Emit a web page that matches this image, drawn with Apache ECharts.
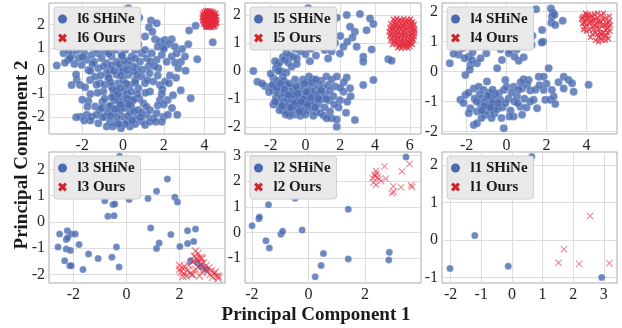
<!DOCTYPE html>
<html>
<head>
<meta charset="utf-8">
<script src="https://cdn.jsdelivr.net/npm/echarts@6/dist/echarts.min.js"></script>
<style>
  html, body { margin: 0; padding: 0; background: #ffffff; }
  #chart { width: 622px; height: 328px; }
</style>
</head>
<body>
<div id="chart"></div>
<script>
// Panel names, in drawing order (top row, then bottom row)
const panelNames = ['l6', 'l5', 'l4', 'l3', 'l2', 'l1'];

// l6
const l6Shine = [
  [0.26,2.71],[1.37,2.18],[1.65,2.06],[1.27,1.89],[1.44,1.7],[1.08,1.49],[1.57,1.37],[1.81,1.27],[2.06,1.34],[2.39,1.37],
  [2.25,1.17],[3.24,1.75],[3.56,1.95],[4.4,1.24],[3.2,1.15],[2.55,1.05],[1.98,1.05],[1.7,1.05],[4.1,1.95],
  [0.5,1.5],[-0.3,2.0],[0.0,1.25],[-1.0,1.4],[-0.6,2.3],[0.8,2.3],[-1.8,1.2],[-2.4,1.15],[0.3,1.8],[-0.2,1.6],
  [-3.25,0.23],[-2.92,0.76],[-2.68,0.88],[-2.52,0.69],[-2.27,0.88],[-2.19,0.55],[-1.9,0.76],[-1.78,0.48],[-1.54,0.69],[-1.41,0.4],
  [-2.03,0.26],[-2.39,0.3],[-2.68,0.48],[-1.21,0.76],[-1.05,0.55],[-0.88,0.84],[-0.8,0.33],[-0.56,0.62],[-0.39,0.91],[-0.31,0.4],
  [-0.07,0.69],[0.1,0.91],[0.18,0.26],[0.42,0.62],[0.59,0.91],[0.83,0.4],[0.92,0.76],[1.16,0.55],[1.08,0.91],[1.41,0.76],
  [1.65,0.48],[1.9,0.69],[2.14,0.4],[2.39,0.62],[2.63,0.76],[2.84,0.4],[3.04,0.62],[3.64,0.5],[3.07,0.01],[2.71,0.12],
  [1.73,0.12],[1.24,0.19],[-0.64,0.04],[-1.21,0.12],[-1.7,0.04],[0.67,0.12],[-0.15,0.12],
  [-0.2,0.3],[0.5,0.2],[0.3,0.45],[-1.5,0.3],[-2.0,0.6],[-2.6,0.55],[-0.8,1.0],[-0.1,1.05],[0.35,1.1],[0.75,1.15],
  [-1.35,0.95],[-2.1,1.0],[1.35,0.4],[1.55,0.2],[-0.55,0.25],[0.05,0.45],[2.9,0.95],
  [-2.52,-0.61],[-2.27,-0.39],[-2.11,-0.61],[-1.86,-0.71],[-1.62,-0.39],[-1.37,-0.25],[-1.13,-0.53],[-0.96,-0.89],[-0.72,-0.32],[-0.56,-0.68],
  [-0.31,-0.17],[-0.23,-0.53],[0.02,-0.39],[0.1,-0.82],[0.26,-0.17],[0.34,-0.61],[0.59,-0.39],[0.75,-0.75],[0.92,-0.25],[1.08,-0.53],
  [1.32,-0.89],[1.49,-0.46],[1.81,-0.61],[2.06,-0.46],[2.25,-0.53],[1.93,-0.79],[2.83,-0.84],[-0.47,-1.04],[-0.07,-1.11],[-0.8,-0.1],
  [0.51,-0.03],[0.0,0.0],[-0.5,-0.8],[-0.2,-1.3],[0.2,-1.0],[0.6,-0.5],[-0.7,-0.3],[-1.1,-0.2],[1.3,-0.1],[0.8,-1.2],
  [-0.35,-0.85],[0.45,-1.25],[-0.9,-0.6],[1.1,-0.95],[2.45,-1.05],[2.6,-0.3],[-2.0,-1.25],[-1.7,-1.3],
  [-2.08,-1.98],[-1.78,-1.9],[-1.54,-1.98],[-1.37,-1.54],[-1.13,-1.69],[-1.01,-1.33],[-0.88,-1.98],[-0.72,-1.54],[-0.64,-2.19],[-0.47,-1.83],
  [-0.39,-1.26],[-0.31,-2.27],[-0.23,-1.62],[-0.1,-2.48],[-0.03,-1.98],[0.1,-1.4],[0.23,-2.19],[0.34,-1.76],[0.51,-1.26],[0.59,-2.05],
  [0.75,-1.69],[0.92,-2.19],[1.0,-1.4],[1.16,-1.9],[1.32,-1.69],[1.49,-2.05],[1.65,-1.83],[1.81,-1.26],[1.98,-1.98],[2.19,-1.26],
  [2.66,-1.9],[3.32,-1.18],[-1.21,-2.27],[-0.8,-2.41],[0.34,-2.41],[1.08,-2.34],
  [0.4,-1.5],[-0.6,-1.5],[-0.9,-1.2],[-0.3,-2.0],[0.6,-2.3],[-1.0,-2.0],[1.3,-2.2],[0.1,-2.3],[-0.5,-2.4],[0.9,-1.8],
  [-1.3,-1.9],[1.7,-1.5],[2.2,-1.9],[-1.75,-1.55],[-0.15,-1.7],[0.7,-1.0],[-0.55,-1.15],[0.25,-1.95],[-1.6,-1.0],
  [-0.45,0.0],[-0.1,-0.2],[0.15,-0.55],[-0.6,-0.5],[0.4,-0.9],[-0.25,-1.0],[0.05,-1.6],[-0.4,-1.65],[0.55,-1.75],[-0.75,-1.8],
  [0.2,-1.2],[-0.15,-0.75],[0.7,-0.15],[-0.95,0.2],[0.95,0.05],[-1.3,-0.6],[1.2,-0.4],[-1.6,0.0],[1.7,-0.2],[-0.35,1.3],
  [0.2,0.05],[-0.05,0.65],[0.6,0.55],[-0.7,0.75],[-1.6,-2.15],[0.45,-2.15],[-0.2,-2.3],[1.6,-2.2],[1.9,-2.2],[-1.9,-2.15],
  [2.4,-1.6],[2.0,-1.45],[-2.3,-2.0],[0.85,-2.0],[-0.6,-1.95],[-1.05,-1.6],[0.3,-1.45],[1.15,-1.55],[-0.15,-1.45],[-1.25,-0.95],
  [-2.3,-0.15],[-2.85,0.35],[2.0,0.95],[2.3,-0.2],[2.55,0.35],[1.9,-1.0]
];
const l6Ours = [
  [3.95,2.55],[4.05,2.6],[4.15,2.62],[4.25,2.6],[4.35,2.58],[4.45,2.55],[4.55,2.5],
  [4.0,2.52],[4.2,2.54],[4.4,2.5],[4.1,2.56],[4.3,2.53],[4.5,2.46],
  [3.9,2.45],[4.0,2.42],[4.1,2.48],[4.2,2.45],[4.3,2.5],[4.4,2.42],[4.5,2.4],[4.6,2.35],
  [3.93,2.37],[4.05,2.38],[4.15,2.4],[4.25,2.39],[4.35,2.36],[4.45,2.34],[4.55,2.32],
  [3.88,2.3],[3.98,2.28],[4.08,2.33],[4.18,2.3],[4.28,2.35],[4.38,2.28],[4.48,2.3],[4.58,2.22],
  [3.92,2.22],[4.03,2.24],[4.13,2.22],[4.23,2.25],[4.33,2.21],[4.43,2.23],[4.53,2.18],
  [3.9,2.15],[4.0,2.18],[4.1,2.12],[4.2,2.17],[4.3,2.14],[4.4,2.18],[4.5,2.12],[4.6,2.1],
  [3.97,2.08],[4.07,2.07],[4.17,2.1],[4.27,2.06],[4.37,2.09],[4.47,2.05],[4.57,2.05],
  [3.95,2.02],[4.05,2.0],[4.15,2.04],[4.25,1.98],[4.35,2.03],[4.45,1.97],[4.55,2.0],
  [4.05,1.9],[4.15,1.88],[4.25,1.9],[4.35,1.87],[4.45,1.9],[4.1,1.95],[4.3,1.94],[4.5,1.93]
];

// l5
const l5Shine = [
  [-3.0,0.0],[-2.77,-0.38],[-2.33,-0.54],[-2.5,-0.45],
  [-1.85,-0.26],[-2.0,-0.1],[-1.7,0.1],[-1.6,0.2],[-1.5,0.3],[-1.75,0.35],[-1.3,0.5],[-1.2,0.4],[-1.1,0.65],[-1.0,0.3],
  [-0.9,0.55],[-0.7,0.5],[-0.6,0.8],[-0.5,0.45],[-0.3,0.7],[-0.2,0.95],[0.0,0.6],[0.1,1.0],[0.3,0.8],[0.5,1.1],
  [0.7,0.9],[0.9,1.2],[1.1,0.75],[-1.4,0.0],[-1.1,-0.05],[-0.8,0.15],[-1.95,-0.55],[-1.6,-0.35],[-1.3,-0.2],
  [0.16,2.24],[0.4,2.0],[0.8,1.7],[1.2,2.1],[1.5,1.6],[0.2,1.5],[-0.3,1.3],[1.0,1.45],[1.8,1.9],
  [2.37,2.0],[2.56,1.58],[2.84,1.4],[2.7,1.2],[3.13,2.04],[3.71,1.88],[3.9,1.68],[3.51,1.46],[3.8,0.77],[2.94,0.87],
  [3.32,0.51],[3.32,0.33],[1.98,0.63],[2.18,0.87],[2.4,1.05],[2.0,1.25],[1.7,1.0],[1.5,0.7],[1.3,0.45],[4.76,0.42],[4.95,0.37],
  [-1.8,-0.7],[-1.7,-0.95],[-1.6,-1.1],[-1.55,-0.8],[-1.45,-1.25],[-1.4,-0.6],[-1.35,-0.95],[-1.3,-1.4],[-1.25,-1.1],[-1.2,-0.8],
  [-1.15,-1.3],[-1.1,-0.5],[-1.05,-1.0],[-1.0,-1.5],[-0.95,-1.2],[-0.9,-0.75],[-0.85,-1.4],[-0.8,-1.0],[-0.75,-0.6],[-0.7,-1.25],
  [-0.65,-0.9],[-0.6,-1.55],[-0.55,-1.1],[-0.5,-0.7],[-0.45,-1.35],[-0.4,-0.95],[-0.35,-1.2],[-0.3,-0.5],[-0.25,-0.85],[-0.2,-1.45],
  [-0.15,-1.05],[-0.1,-0.65],[-0.05,-1.3],[0.0,-0.9],[0.05,-1.15],[0.1,-0.4],[0.15,-0.75],[0.2,-1.4],[0.25,-1.0],[0.3,-0.6],
  [0.35,-1.25],[0.4,-0.85],[0.45,-0.3],[0.5,-1.1],[0.55,-0.7],[0.6,-1.45],[0.65,-0.95],[0.7,-0.5],[0.75,-1.2],[0.8,-0.8],
  [0.9,-0.35],[0.95,-1.0],[1.0,-0.6],[1.1,-1.3],[1.15,-0.85],[1.2,-0.2],[1.3,-0.5],[1.35,-1.05],[1.4,-0.7],[1.5,-0.3],
  [1.6,-0.9],[1.7,-0.55],[1.8,-0.2],[-1.9,-0.5],[-1.5,-1.4],[-0.9,-1.6],[-0.3,-1.6],[0.0,-1.55],[0.45,-1.6],[-1.25,-0.35],
  [-0.6,-0.3],[0.2,-0.2],[-2.1,-0.75],[-1.85,-1.2],[-0.15,-0.3],[0.85,-1.5],[1.05,-1.6],
  [2.37,-0.23],[2.56,-0.62],[2.18,-0.74],[1.98,-1.04],[1.41,-1.45],[1.5,-1.69],[1.79,-1.99],[1.79,-1.73],[2.84,-1.75],[2.33,-1.49],
  [1.22,-1.69],[3.9,-0.32],[3.32,-0.5],[2.2,-0.4],[2.0,-0.6],[1.9,-1.3],[2.4,-1.1],[1.65,-1.2],[2.6,-0.9],
  [-1.65,-0.6],[-1.45,-0.45],[-1.2,-0.65],[-0.95,-0.45],[-0.75,-0.85],[-0.55,-0.55],[-0.35,-1.45],[-0.1,-1.0],[0.1,-1.2],[0.3,-0.95],
  [0.55,-1.3],[-1.0,-0.85],[-0.65,-1.15],[-0.25,-1.1],[0.05,-0.75],[0.35,-0.4],[0.75,-1.0],[-1.35,-1.25],[-1.75,-1.1],[-0.85,-1.3],
  [-0.45,-0.8],[1.2,-1.0],[0.9,-0.7],[-1.15,-1.55],[-0.05,-0.45],[0.6,-0.3],[-1.55,0.0],[-0.5,0.25],[0.25,0.35],[0.6,0.55]
];
const l5Ours = [
  [5.05,1.85],[5.25,1.88],[5.45,1.84],[5.65,1.87],[5.85,1.83],[6.05,1.86],
  [5.15,1.79],[5.35,1.78],[5.55,1.8],[5.75,1.77],[5.95,1.79],[6.15,1.76],
  [4.9,1.7],[5.1,1.72],[5.3,1.68],[5.5,1.71],[5.7,1.69],[5.9,1.73],[6.1,1.7],[6.25,1.67],
  [5.0,1.62],[5.2,1.64],[5.4,1.61],[5.6,1.63],[5.8,1.6],[6.0,1.63],[6.18,1.61],
  [4.85,1.55],[5.0,1.53],[5.2,1.57],[5.4,1.54],[5.6,1.56],[5.8,1.52],[6.0,1.55],[6.2,1.53],
  [4.9,1.47],[5.1,1.48],[5.3,1.46],[5.5,1.49],[5.7,1.45],[5.9,1.47],[6.1,1.46],[6.27,1.48],
  [4.8,1.4],[4.95,1.38],[5.15,1.42],[5.35,1.39],[5.55,1.41],[5.75,1.37],[5.95,1.4],[6.15,1.38],[6.28,1.42],
  [4.9,1.32],[5.1,1.31],[5.3,1.33],[5.5,1.3],[5.7,1.32],[5.9,1.29],[6.1,1.31],[6.26,1.33],
  [4.85,1.25],[5.05,1.23],[5.25,1.27],[5.45,1.24],[5.65,1.26],[5.85,1.22],[6.05,1.25],[6.25,1.23],
  [4.95,1.17],[5.15,1.16],[5.35,1.18],[5.55,1.15],[5.75,1.17],[5.95,1.14],[6.15,1.17],
  [4.9,1.1],[5.1,1.08],[5.3,1.12],[5.5,1.09],[5.7,1.11],[5.9,1.07],[6.1,1.1],[6.22,1.12],
  [5.1,1.02],[5.3,1.01],[5.5,1.03],[5.7,1.0],[5.9,1.02],[6.08,1.01],
  [5.0,0.95],[5.2,0.97],[5.4,0.93],[5.6,0.96],[5.8,0.94],[6.0,0.97],[6.15,0.95],
  [5.3,0.83],[5.5,0.81],[5.7,0.84],[5.9,0.82],[5.4,0.88],[5.6,0.89],[5.8,0.87],[6.0,0.88]
];

// l4
const l4Shine = [
  [1.48,2.08],[2.23,2.11],[2.32,1.97],[2.27,1.83],[2.4,1.9],[2.81,1.7],[2.24,1.63],[2.44,1.56],[1.78,1.39],[1.83,1.0],
  [-2.0,1.2],[-1.5,1.5],[-1.0,1.7],[-0.5,1.3],[0.5,1.9],[1.0,1.5],[-2.5,0.95],[1.3,1.2],[1.26,0.89],[1.76,0.97],
  [0.18,0.72],[0.51,0.74],
  [-2.84,0.28],[-2.56,0.83],[-2.22,0.78],[-2.39,0.56],[-1.89,0.5],[-1.81,0.22],[-1.73,0.39],[-1.48,0.28],[-2.06,-0.11],[-1.84,0.06],
  [-1.01,0.61],[-0.47,0.11],[-0.23,0.39],[0.11,0.61],[0.86,0.48],[0.61,0.36],[-1.7,0.65],[-2.1,0.45],
  [-2.31,-0.94],[-2.06,-0.78],[-1.64,-0.56],[-1.39,-0.5],[-1.14,-0.61],[-0.98,-0.33],[-0.81,-0.83],[-0.65,-0.94],[-0.56,-1.17],[-0.39,-0.72],
  [-0.31,-0.94],[-0.14,-0.61],[-0.06,-0.28],[-1.81,-1.22],[-1.48,-1.33],[-1.14,-1.28],[-0.81,-1.33],[-1.89,-1.39],[-1.64,-1.78],[-1.48,-1.72],
  [-0.14,-1.89],[0.36,-1.5],[0.78,-1.44],[0.69,-1.17],[0.36,-0.5],[0.53,-0.83],[0.78,-0.56],[1.03,-0.44],[1.19,-0.63],[1.11,-0.28],
  [1.36,-0.94],[1.61,-0.17],[1.86,-0.17],[2.11,0.11],[1.86,-0.61],[1.94,-0.94],[2.19,-0.94],[2.36,-0.83],[2.27,-0.61],[2.86,-0.17],
  [3.11,-0.28],[3.28,-0.39],[3.36,-0.67],[2.86,-0.56],[2.44,-1.08],[1.53,-1.22],[4.11,-0.44],
  [-1.0,-1.0],[-0.9,-1.15],[-1.2,-0.9],[-0.7,-1.05],[-1.3,-1.1],[-0.85,-0.7],[-1.05,-1.45],[-0.6,-1.4],[-1.35,-0.75],[-0.45,-1.25],
  [-0.2,-1.2],[0.1,-0.9],[0.2,-1.3],[0.4,-1.0],[0.6,-0.6],[0.9,-0.9],[1.0,-1.2],[-0.75,-1.55],[-1.25,-1.55],[-0.25,-1.55],
  [0.85,-0.25],[1.45,-0.6],[2.6,-0.35],[2.0,-0.4],[-2.15,-1.05],[-1.6,-0.9],[0.0,-0.5],
  [-0.95,-0.8],[-1.1,-1.15],[-0.8,-1.2],[-0.55,-0.75],[-1.25,-1.3],[-0.7,-0.6],[-1.5,-1.0],[-0.4,-1.05],[0.25,-0.7],[0.55,-1.05],
  [0.7,-0.35],[0.15,-1.5],[-0.05,-1.05],[1.2,-1.0],[1.65,-0.45],[-1.9,-0.7],[-0.3,0.75],[-1.3,0.45],[0.4,0.5],[-2.65,0.6]
];
const l4Ours = [
  [3.75,1.75],[3.8,1.6],[3.85,1.85],[3.9,1.5],[3.95,1.7],[4.0,1.9],[4.05,1.55],[4.1,1.78],[4.15,1.4],[4.2,1.65],
  [4.25,1.88],[4.3,1.5],[4.35,1.72],[4.4,1.92],[4.45,1.3],[4.5,1.58],[4.55,1.8],[4.6,1.15],[4.65,1.42],[4.7,1.68],
  [4.75,1.88],[4.8,1.05],[4.85,1.3],[4.9,1.55],[4.95,1.78],[5.0,1.2],[5.05,1.45],[5.1,1.65],[5.15,1.85],[5.18,1.35],
  [4.3,1.25],[4.45,1.05],[4.6,1.0],[4.75,1.25],[4.95,1.05],[5.1,1.1],[4.0,1.35],[4.2,1.15],[3.85,1.4],[4.55,1.95],
  [4.85,1.95],[5.0,1.6],[4.4,1.55],[4.65,1.6],[4.25,1.7],[3.95,1.95],[5.2,1.55],
  [3.8,1.8],[3.9,1.62],[4.0,1.78],[4.1,1.9],[4.15,1.62],[4.3,1.82],[4.45,1.75],[4.55,1.45],[4.6,1.7],[4.7,1.3],
  [4.8,1.55],[4.85,1.75],[4.95,1.4],[5.05,1.3],[5.1,1.5],[4.9,1.2],[4.7,1.12],[4.55,1.25],[5.15,1.7],[4.35,1.4]
];

// l3
const l3Shine = [
  [-0.26,2.5],[1.54,1.63],[1.13,1.17],[0.81,0.89],[0.41,1.04],[0.10,0.85],[1.82,0.94],[1.92,0.76],[-0.82,0.81],[-0.51,0.66],
  [-0.44,0.68],[-0.7,0.22],[-0.47,0.24],[0.91,-0.23],[1.67,-0.48],[2.3,-0.33],[2.6,-0.27],[2.53,-0.74],[2.3,-0.82],[2.01,-0.93],
  [1.23,-0.8],[1.13,-1.01],[2.41,-1.47],[2.67,-1.56],[2.82,-1.69],[3.0,-1.81],[-2.58,-0.95],[-2.52,-0.46],[-2.23,-0.33],[-2.08,-0.46],
  [-1.93,-0.46],[-2.27,-0.67],[-2.22,-0.6],[-2.27,-1.03],[-2.11,-1.08],[-2.33,-1.47],[-2.14,-1.66],[-2.08,-1.66],[-1.79,-0.86],[-1.64,-1.81],
  [-1.43,-1.22],[-1.07,-1.39],[-0.55,-1.34],[-0.38,-0.95],[-0.28,-1.71],[-1.5,1.8],[-0.9,1.2]
];
const l3Ours = [
  [2.6,-1.1],[2.7,-1.2],[2.55,-1.3],[2.75,-1.35],[2.65,-1.45],[2.85,-1.4],[2.5,-1.5],[2.9,-1.55],[2.8,-1.6],[3.0,-1.65],
  [2.7,-1.7],[3.1,-1.75],[2.95,-1.8],[3.2,-1.85],[3.05,-1.9],[3.3,-1.95],[3.15,-2.0],[3.4,-2.05],[3.35,-1.9],[2.85,-1.9],
  [2.6,-1.8],[2.5,-2.0],[2.75,-2.05],[3.25,-2.1],[3.45,-2.15],
  [2.0,-1.65],[2.1,-1.75],[2.2,-1.7],[2.05,-1.9],[2.15,-1.95],[2.3,-1.85],[2.25,-2.05],[2.4,-1.95],[2.0,-1.8],[2.35,-1.65],
  [2.45,-2.0],[2.13,-2.07],[2.64,-1.37],[2.82,-1.37],[3.46,-2.07]
];

// l2
const l2Shine = [
  [3.45,2.94],[-1.99,0.26],[-1.75,0.53],[-1.73,0.6],[-1.41,1.08],[-0.47,1.33],[-1.5,-0.33],[-1.38,-0.61],[-0.97,-0.07],
  [-0.91,0.04],[-0.22,0.09],[1.41,0.9],[0.53,-0.83],[0.45,-1.3],[0.24,-1.74],[1.41,-1.04],[2.86,-0.78],[2.84,-1.08]
];
const l2Ours = [
  [2.39,2.41],[2.33,2.25],[2.27,2.12],[2.36,2.18],[2.45,2.15],[2.5,2.08],[2.69,2.58],[2.74,2.1],[2.57,2.0],[2.3,1.95],
  [2.39,1.86],[3.0,1.8],[2.95,1.54],[3.02,1.58],[3.27,1.76],[3.31,2.38],[3.57,2.67],[3.63,1.84],[3.66,1.77],[2.42,2.3]
];

// l1
const l1Shine = [[-2.02,-0.76],[-1.21,0.12],[-0.12,-0.7],[2.93,-1.0],[0.65,2.23]];
const l1Ours = [[2.55,0.64],[1.7,-0.25],[1.52,-0.61],[2.2,-0.64],[3.18,-0.62]];

// tick labels per panel
const xTickValues = [[-2,0,2,4], [-2,0,2,4,6], [-2,0,2,4], [-2,0,2], [-2,0,2], [-2,-1,0,1,2,3]];
const yTickValues = [[-2,-1,0,1,2], [-2,-1,0,1,2], [-2,-1,0,1,2], [-2,-1,0,1,2], [-1,0,1,2,3], [-1,0,1,2]];

const shineData = [l6Shine, l5Shine, l4Shine, l3Shine, l2Shine, l1Shine];
const oursData = [l6Ours, l5Ours, l4Ours, l3Ours, l2Ours, l1Ours];

// layout (pixels) and axis extents
const boxes = [
  { left: 49, top: 3, width: 176, height: 131, x: [-3.63, 5.0], y: [-2.73, 2.94] },
  { left: 245, top: 3, width: 176, height: 131, x: [-3.48, 6.64], y: [-2.25, 2.43] },
  { left: 442, top: 3, width: 175, height: 131, x: [-3.23, 5.53], y: [-2.08, 2.29] },
  { left: 49, top: 152, width: 176, height: 131, x: [-2.92, 3.71], y: [-2.32, 2.66] },
  { left: 245, top: 152, width: 176, height: 131, x: [-2.24, 3.98], y: [-1.98, 3.14] },
  { left: 442, top: 152, width: 175, height: 131, x: [-2.28, 3.43], y: [-1.15, 2.35] }
];
const shineSize = [8, 8, 8, 7, 7, 7];
const oursSize = [6, 6, 6, 8, 7, 7];

const BLUE = '#4a6bb2';
const RED = '#e42a3c';
const FONT = '"Liberation Serif", "Times New Roman", serif';
const X_THIN = 'path://M0,1L1,0L5,4L9,0L10,1L6,5L10,9L9,10L5,6L1,10L0,9L4,5Z';
const X_MID = 'path://M0,1.6L1.6,0L5,3.4L8.4,0L10,1.6L6.6,5L10,8.4L8.4,10L5,6.6L1.6,10L0,8.4L3.4,5Z';
const X_BOLD = 'path://M0,2.5L2.5,0L5,2.5L7.5,0L10,2.5L7.5,5L10,7.5L7.5,10L5,7.5L2.5,10L0,7.5L2.5,5Z';

const grids = [], xAxes = [], yAxes = [], series = [], legends = [];

panelNames.forEach((p, i) => {
  const b = boxes[i];
  const dense = i < 3;
  grids.push({
    left: b.left, top: b.top, width: b.width, height: b.height,
    show: true, borderColor: '#a9a9a9', borderWidth: 1, backgroundColor: '#ffffff',
    containLabel: false, outerBoundsMode: 'none'
  });

  const axisBase = (ticks) => ({
    gridIndex: i,
    type: 'value',
    axisLine: { show: false },
    axisTick: { show: false, customValues: ticks },
    axisLabel: {
      customValues: ticks,
      fontFamily: FONT, fontSize: 16, color: '#262626', margin: 4
    },
    splitLine: { show: true, lineStyle: { color: '#dddddd', width: 1 } }
  });

  xAxes.push({ ...axisBase(xTickValues[i]), min: b.x[0], max: b.x[1] });
  yAxes.push({ ...axisBase(yTickValues[i]), min: b.y[0], max: b.y[1] });

  series.push({
    name: p + ' SHiNe', type: 'scatter', xAxisIndex: i, yAxisIndex: i,
    data: shineData[i], symbol: 'circle', symbolSize: shineSize[i],
    itemStyle: { color: BLUE, borderColor: 'rgba(255,255,255,0.45)', borderWidth: 0.5 },
    emphasis: { disabled: true }, z: 2
  });
  series.push({
    name: p + ' Ours', type: 'scatter', xAxisIndex: i, yAxisIndex: i,
    data: oursData[i], symbol: dense ? X_MID : X_THIN, symbolSize: oursSize[i],
    itemStyle: { color: RED, opacity: dense ? 0.75 : 0.6 },
    emphasis: { disabled: true }, z: 3
  });

  legends.push({
    left: b.left + 5, top: b.top + 4,
    orient: 'vertical',
    selectedMode: false,
    data: [
      { name: p + ' SHiNe', icon: 'circle', itemStyle: { color: BLUE, borderWidth: 0, opacity: 1 } },
      { name: p + ' Ours', icon: X_BOLD, itemStyle: { color: '#d2242c', opacity: 1 } }
    ],
    itemWidth: 20, itemHeight: 9, itemGap: 3,
    padding: [4, 6, 4, 4],
    backgroundColor: '#e9e9e9', borderColor: '#d0d0d0', borderWidth: 1, borderRadius: 3,
    textStyle: { fontFamily: FONT, fontWeight: 'bold', fontSize: 15, color: '#1a1a1a', lineHeight: 16 }
  });
});

const chart = echarts.init(document.getElementById('chart'), null, { renderer: 'canvas' });
chart.setOption({
  animation: false,
  backgroundColor: '#ffffff',
  grid: grids,
  xAxis: xAxes,
  yAxis: yAxes,
  legend: legends,
  series: series,
  graphic: [
    {
      type: 'text', x: 316, y: 315,
      style: { text: 'Principal Component 1', font: 'bold 19px ' + FONT, fill: '#1a1a1a', align: 'center', verticalAlign: 'middle' }
    },
    {
      type: 'text', x: 22, y: 155, rotation: Math.PI / 2,
      style: { text: 'Principal Component 2', font: 'bold 19px ' + FONT, fill: '#1a1a1a', align: 'center', verticalAlign: 'middle' }
    }
  ]
});
</script>
</body>
</html>
